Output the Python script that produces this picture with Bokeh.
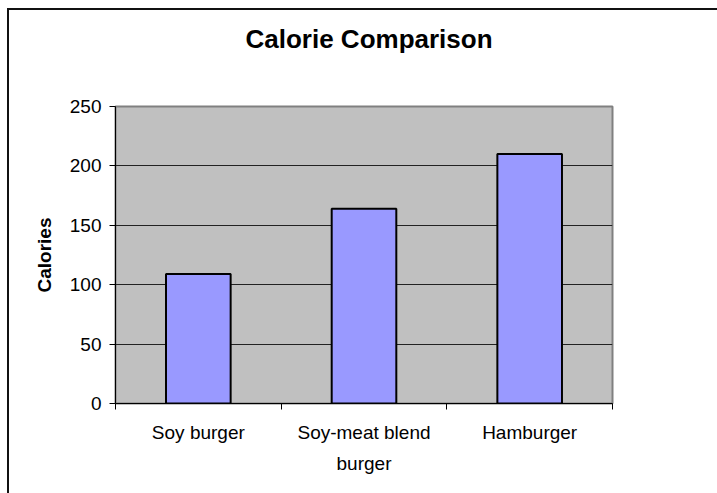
from bokeh.plotting import figure
from bokeh.models import FixedTicker, Range1d, Title
from bokeh.embed import file_html
from bokeh.resources import INLINE

categories = ["Soy burger", "Soy-meat blend\nburger", "Hamburger"]
calories = [109, 164, 210]
y_ticks = [0, 50, 100, 150, 200, 250]

positions = [i + 0.5 for i in range(len(categories))]
boundaries = [float(i) for i in range(len(categories) + 1)]

FONT = "Liberation Sans"

p = figure(width=717, height=493, output_backend="svg", toolbar_location=None,
           x_range=Range1d(0, len(categories)), y_range=Range1d(0, 250),
           title=None,
           min_border_left=115, min_border_right=105, min_border_top=106, min_border_bottom=90)

# white page with the chart's outer frame (left and top edges)
p.styles = {
    "background-color": "white",
    "background-image": "linear-gradient(#111111, #111111), linear-gradient(#111111, #111111)",
    "background-size": "2px 100%, 100% 2px",
    "background-position": "7px 8px, 7px 8px",
    "background-repeat": "no-repeat",
}
p.border_fill_alpha = 0
p.background_fill_color = "#C0C0C0"
p.outline_line_color = "#808080"
p.outline_line_width = 2

# spacer (closest to frame) then the title
p.add_layout(Title(text=" ", text_font_size="10px", standoff=40, text_color="white"), "above")
p.add_layout(Title(text="Calorie Comparison", align="left", offset=130, standoff=0,
                   text_font=FONT, text_font_size="26px", text_font_style="bold",
                   text_color="black"), "above")

p.vbar(x=positions, top=calories, width=0.39, fill_color="#9999FF",
       line_color="black", line_width=2)

# x axis: labels at category centres, tick marks at category boundaries
p.xaxis.ticker = FixedTicker(ticks=positions, minor_ticks=boundaries)
p.xaxis.major_label_overrides = {pos: cat for pos, cat in zip(positions, categories)}
p.xaxis.major_tick_in = 0
p.xaxis.major_tick_out = 0
p.xaxis.minor_tick_in = 0
p.xaxis.minor_tick_out = 6
p.xaxis.minor_tick_line_color = "black"
p.xaxis.axis_line_color = "black"
p.xaxis.major_label_text_font = FONT
p.xaxis.major_label_text_font_size = "19px"
p.xaxis.major_label_text_color = "black"
p.xaxis.major_label_text_line_height = 1.5
p.xaxis.major_label_standoff = 12

# y axis
p.yaxis.ticker = FixedTicker(ticks=y_ticks)
p.yaxis.minor_tick_line_color = None
p.yaxis.major_tick_in = 0
p.yaxis.major_tick_out = 6
p.yaxis.major_tick_line_color = "black"
p.yaxis.axis_line_color = "black"
p.yaxis.major_label_text_font = FONT
p.yaxis.major_label_text_font_size = "19px"
p.yaxis.major_label_text_color = "black"
p.yaxis.major_label_standoff = 8
p.yaxis.axis_label = "Calories"
p.yaxis.axis_label_text_font = FONT
p.yaxis.axis_label_text_font_size = "19px"
p.yaxis.axis_label_text_font_style = "bold"
p.yaxis.axis_label_text_color = "black"
p.yaxis.axis_label_standoff = 12

p.xgrid.grid_line_color = None
p.ygrid.ticker = FixedTicker(ticks=y_ticks)
p.ygrid.grid_line_color = "#222222"
p.ygrid.grid_line_width = 1

open("out.html", "w").write(file_html(p, INLINE))
